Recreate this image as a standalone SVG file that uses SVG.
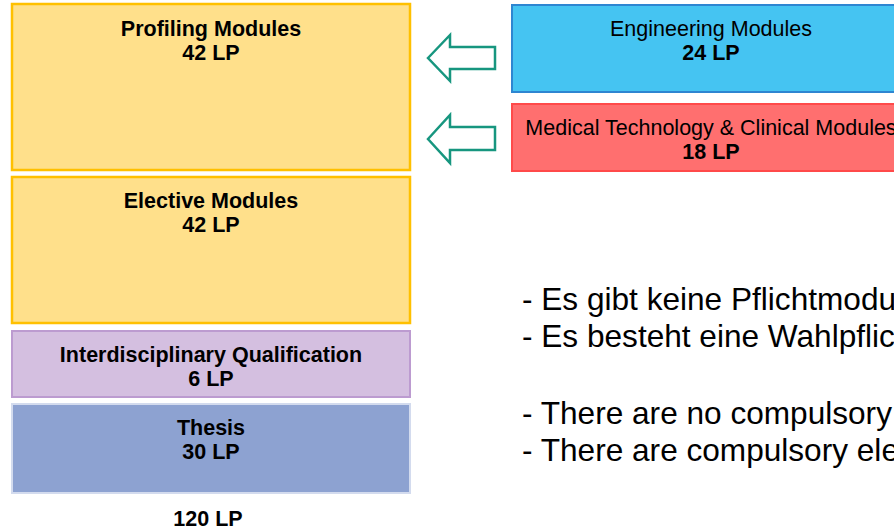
<svg xmlns="http://www.w3.org/2000/svg" width="894" height="529" viewBox="0 0 894 529">
<style>
  .b { font-family: "Liberation Sans", Arial, sans-serif; font-weight: bold; font-size: 21.5px; fill: #000; text-anchor: middle; }
  .r { font-family: "Liberation Sans", Arial, sans-serif; font-size: 21.5px; fill: #000; text-anchor: middle; }
  .note { font-family: "Liberation Sans", Arial, sans-serif; font-size: 31.6px; fill: #000; }
  .yel { fill: #FFE08B; stroke: #FFC000; stroke-width: 2.5; }
  .arrow { fill: #FFFFFF; stroke: #17967F; stroke-width: 2.5; stroke-linejoin: miter; }
</style>
<rect width="894" height="529" fill="#FFFFFF"/>
<g id="profiling">
  <rect class="yel" x="12" y="4" width="398" height="166"/>
  <text class="b" x="211" y="36">Profiling Modules</text>
  <text class="b" x="211" y="60">42 LP</text>
</g>
<g id="elective">
  <rect class="yel" x="12" y="177" width="398" height="146"/>
  <text class="b" x="211" y="208">Elective Modules</text>
  <text class="b" x="211" y="232">42 LP</text>
</g>
<g id="interdisciplinary">
  <rect x="12" y="331" width="398" height="66" fill="#D4BFE0" stroke="#BC9BD0" stroke-width="2"/>
  <text class="b" x="211" y="362">Interdisciplinary Qualification</text>
  <text class="b" x="211" y="386">6 LP</text>
</g>
<g id="thesis">
  <rect x="12" y="404" width="398" height="89" fill="#8DA2D1" stroke="#D3DBEE" stroke-width="2"/>
  <text class="b" x="211" y="435">Thesis</text>
  <text class="b" x="211" y="459">30 LP</text>
</g>
<g id="total">
  <text class="b" x="208" y="526">120 LP</text>
</g>
<g id="engineering">
  <rect x="512" y="5" width="400" height="87" fill="#45C4F2" stroke="#2E86D1" stroke-width="2"/>
  <text class="r" x="711" y="36">Engineering Modules</text>
  <text class="b" x="711" y="60">24 LP</text>
</g>
<g id="medical">
  <rect x="512" y="104" width="400" height="67" fill="#FF6F6F" stroke="#FF4A4A" stroke-width="2"/>
  <text class="r" x="711" y="135">Medical Technology &amp; Clinical Modules</text>
  <text class="b" x="711" y="159">18 LP</text>
</g>
<g id="connectors">
  <polygon class="arrow" points="428,58 450,35 450,47 495,47 495,69 450,69 450,81"/>
  <polygon class="arrow" points="428,139 450,115 450,127 495,127 495,150 450,150 450,163"/>
</g>
<g id="notes">
  <text class="note" x="522" y="310">- Es gibt keine Pflichtmodu</text>
  <text class="note" x="522" y="347">- Es besteht eine Wahlpflic</text>
  <text class="note" x="522" y="424">- There are no compulsory</text>
  <text class="note" x="522" y="461">- There are compulsory ele</text>
</g>
</svg>
